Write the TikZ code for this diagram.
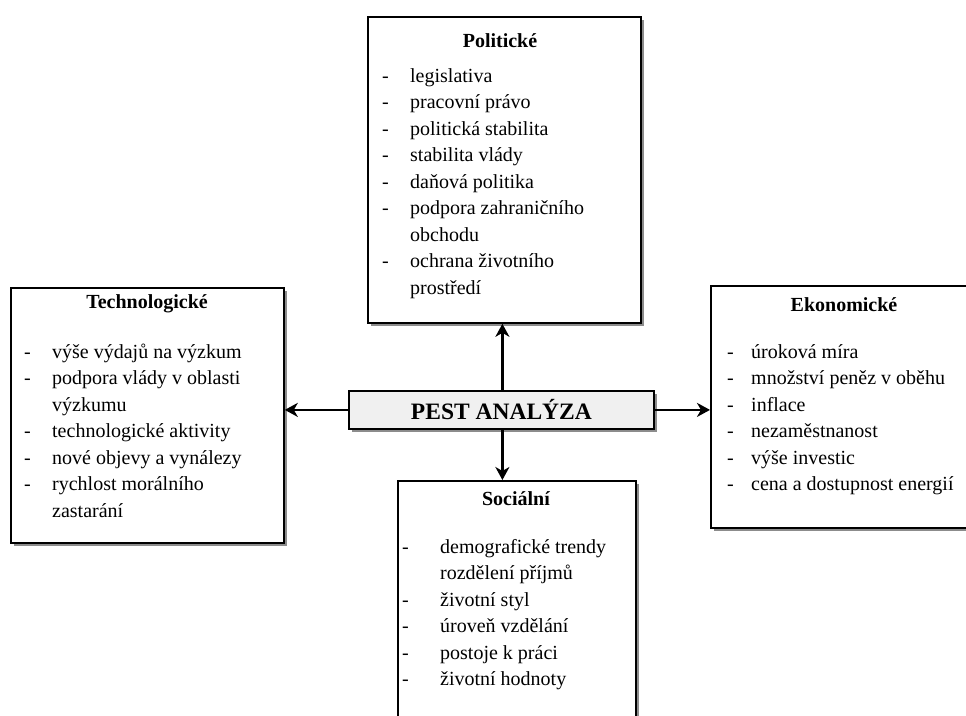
\documentclass[tikz,border=0pt]{standalone}
\usepackage{fontspec}
\setmainfont{Liberation Serif}
\usetikzlibrary{shadows,arrows.meta}
\begin{document}
\begin{tikzpicture}[x=1pt,y=-1pt,
  box/.style={draw=black, line width=1.8pt, fill=white, anchor=north west, inner sep=0pt,
    drop shadow={shadow xshift=3pt, shadow yshift=-3pt, fill=black!45, opacity=1}},
  ttl/.style={font=\fontsize{20}{26.5}\selectfont\bfseries, anchor=base, inner sep=0pt},
  lst/.style={font=\fontsize{20}{26.5}\selectfont, anchor=base west, inner sep=0pt},
  conn/.style={line width=2.6pt, -{Stealth[length=13pt,width=14pt,inset=4pt]}}
]
\clip (0,0) rectangle (966,715);
\fill[white] (0,0) rectangle (966,715);

% boxes
\node[box, minimum width=273pt, minimum height=306pt] (pol) at (367,16) {};
\node[box, minimum width=273pt, minimum height=255pt] (tec) at (10,287) {};
\node[box, minimum width=275pt, minimum height=242pt] (eko) at (710,285) {};
\node[box, minimum width=238pt, minimum height=260pt] (soc) at (397,480) {};
\node[box, fill=black!6, minimum width=305pt, minimum height=38pt] (pest) at (348,390) {};
\node[font=\fontsize{23.5}{26}\selectfont\bfseries, inner sep=0pt] (pestt) at (pest.center) {PEST ANALÝZA};

% titles
\node[ttl] (polt) at (500,47) {Politické};
\node[ttl] (tect) at (147,308) {Technologické};
\node[ttl] (ekot) at (844,311) {Ekonomické};
\node[ttl] (soct) at (516,505) {Sociální};

% lists
\node[lst] (poll) at (382,82) {\begin{tabular}[t]{@{}p{28pt}@{}l@{}}
-& legislativa\\
-& pracovní právo\\
-& politická stabilita\\
-& stabilita vlády\\
-& daňová politika\\
-& podpora zahraničního\\
 & obchodu\\
-& ochrana životního\\
 & prostředí
\end{tabular}};
\node[lst] (tecl) at (24,358) {\begin{tabular}[t]{@{}p{28pt}@{}l@{}}
-& výše výdajů na výzkum\\
-& podpora vlády v oblasti\\
 & výzkumu\\
-& technologické aktivity\\
-& nové objevy a vynálezy\\
-& rychlost morálního\\
 & zastarání
\end{tabular}};
\node[lst] (ekol) at (727,358) {\begin{tabular}[t]{@{}p{24pt}@{}l@{}}
-& úroková míra\\
-& množství peněz v oběhu\\
-& inflace\\
-& nezaměstnanost\\
-& výše investic\\
-& cena a dostupnost  energií
\end{tabular}};
\node[lst] (socl) at (402,553) {\begin{tabular}[t]{@{}p{38pt}@{}l@{}}
-& demografické trendy\\
 & rozdělení příjmů\\
-& životní styl\\
-& úroveň vzdělání\\
-& postoje k práci\\
-& životní hodnoty
\end{tabular}};

% connectors
\draw[conn] ([xshift=1pt]pest.north) -- ([xshift=1pt]pol.south -| pest.north);
\draw[conn] ([xshift=1pt]pest.south) -- ([xshift=1pt]pest.south |- soc.north);
\draw[conn] (pest.west) -- (pest.west -| tec.east);
\draw[conn] (pest.east) -- (pest.east -| eko.west);
\end{tikzpicture}
\end{document}
